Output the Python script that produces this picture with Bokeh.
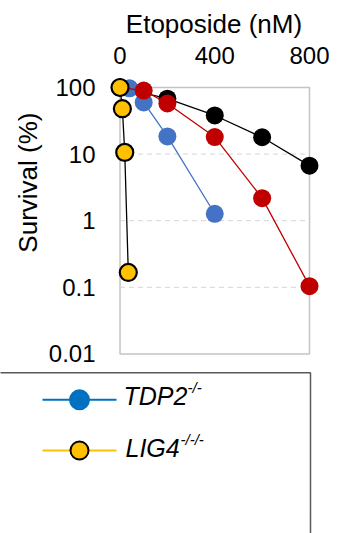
from bokeh.plotting import figure
from bokeh.models import Range1d, FixedTicker, CustomJSTickFormatter, Title
from bokeh.layouts import column
from bokeh.core.properties import value
from bokeh.embed import file_html
from bokeh.resources import INLINE

FONT = "Liberation Sans"

# ---- data ----
X_TICKS = [0, 400, 800]
Y_TICKS = [0.01, 0.1, 1, 10, 100]
GRID_Y = [10, 1, 0.1]

wt_x = [0, 200, 400, 600, 800]
wt_y = [100, 68, 38, 17.9, 6.7]

tdp2_x = [0, 40, 100, 200, 400]
tdp2_y = [100, 97, 59.6, 18.4, 1.27]

red_x = [0, 100, 200, 400, 600, 800]
red_y = [100, 90, 57.5, 18, 2.18, 0.104]

lig4_x = [0, 10, 20, 35]
lig4_y = [100, 48, 10.6, 0.167]

LEGEND_NAMES = ["TDP2", "LIG4"]
LEGEND_SUPS = ["-/-", "-/-/-"]
LEGEND_LINE_COLORS = ["#0070C0", "#FFC000"]
LEGEND_FILL_COLORS = ["#0070C0", "#FFC000"]
LEGEND_OUTLINES = [None, "black"]

# ---- main chart ----
p = figure(width=346, height=368, x_axis_location="above", y_axis_type="log",
           x_range=Range1d(-52.8, 846.4), y_range=Range1d(0.00914, 156.7),
           output_backend="svg", toolbar_location=None,
           min_border_left=107, min_border_right=26, min_border_top=74, min_border_bottom=12)
p.frame_align = False
p.outline_line_color = None
p.grid.visible = False

for ax in (p.xaxis[0], p.yaxis[0]):
    ax.axis_line_color = None
    ax.major_tick_line_color = None
    ax.minor_tick_line_color = None
    ax.major_tick_out = 0
    ax.major_tick_in = 0
    ax.minor_tick_out = 0
    ax.minor_tick_in = 0
    ax.major_label_text_font = FONT
    ax.major_label_text_font_size = "24px"
    ax.major_label_text_color = "black"

p.xaxis.ticker = FixedTicker(ticks=X_TICKS)
p.yaxis.ticker = FixedTicker(ticks=Y_TICKS)
p.yaxis.formatter = CustomJSTickFormatter(code="return String(tick);")
p.xaxis.major_label_standoff = 11
p.yaxis.major_label_standoff = 12
p.xaxis.axis_label = "Etoposide (nM)"
p.xaxis.axis_label_text_font = FONT
p.xaxis.axis_label_text_font_style = "normal"
p.xaxis.axis_label_text_font_size = "26px"
p.xaxis.axis_label_text_color = "black"
p.xaxis.axis_label_standoff = 5

# y-axis title as a side title, top-aligned with an offset from the frame top
p.add_layout(Title(text="Survival (%)", align="right", offset=38, standoff=5,
                   text_font=FONT, text_font_size="26px", text_font_style="normal",
                   text_color="black"), "left")

# plot-area box and dashed gridlines
p.quad(left=X_TICKS[0], right=X_TICKS[-1], bottom=Y_TICKS[0], top=Y_TICKS[-1],
       fill_color=None, line_color="#C4C4C4", line_width=1.5)
p.segment(x0=[X_TICKS[0]] * len(GRID_Y), x1=[X_TICKS[-1]] * len(GRID_Y), y0=GRID_Y, y1=GRID_Y,
          line_color="#D5D5D5", line_width=1, line_dash="5 4")

# series
p.line(wt_x, wt_y, line_color="black", line_width=1.3)
p.scatter(wt_x, wt_y, size=18, fill_color="black", line_color=None)

p.line(tdp2_x, tdp2_y, line_color="#4472C4", line_width=1.3)
p.scatter(tdp2_x, tdp2_y, size=18, fill_color="#4472C4", line_color=None)

p.line(red_x, red_y, line_color="#C00000", line_width=1.3)
p.scatter(red_x, red_y, size=18, fill_color="#C00000", line_color=None)

p.line(lig4_x, lig4_y, line_color="black", line_width=1.3)
p.scatter(lig4_x, lig4_y, size=17, fill_color="#FFC000", line_color="black", line_width=2.2)

# ---- legend panel (cropped legend box) ----
q = figure(width=346, height=165, x_range=Range1d(0, 346), y_range=Range1d(165, 0),
           x_axis_location=None, y_axis_location=None,
           output_backend="svg", toolbar_location=None,
           min_border_left=0, min_border_right=0, min_border_top=0, min_border_bottom=0)
q.frame_align = False
q.outline_line_color = None
q.grid.visible = False

q.line([-10, 310, 310], [4.3, 4.3, 200], line_color="#595959", line_width=1.5)

row_y = [31.3, 82.0]
for i, name in enumerate(LEGEND_NAMES):
    yy = row_y[i]
    q.line([42, 116], [yy, yy], line_color=LEGEND_LINE_COLORS[i], line_width=2)
    if LEGEND_OUTLINES[i] is None:
        q.scatter([79], [yy], size=21, fill_color=LEGEND_FILL_COLORS[i], line_color=None)
    else:
        q.scatter([79], [yy], size=18, fill_color=LEGEND_FILL_COLORS[i],
                  line_color=LEGEND_OUTLINES[i], line_width=2)

q.text(x=[123, 125], y=[27, 79], text=LEGEND_NAMES, text_font=value(FONT),
       text_font_style="italic", text_font_size="25px", text_color="black",
       text_align="left", text_baseline="alphabetic")
q.text(x=[187, 180], y=[19, 71], text=LEGEND_SUPS, text_font=value(FONT),
       text_font_style="italic", text_font_size="15px", text_color="black",
       text_align="left", text_baseline="alphabetic")

layout = column(p, q, spacing=0)
open("out.html", "w").write(file_html(layout, INLINE))
